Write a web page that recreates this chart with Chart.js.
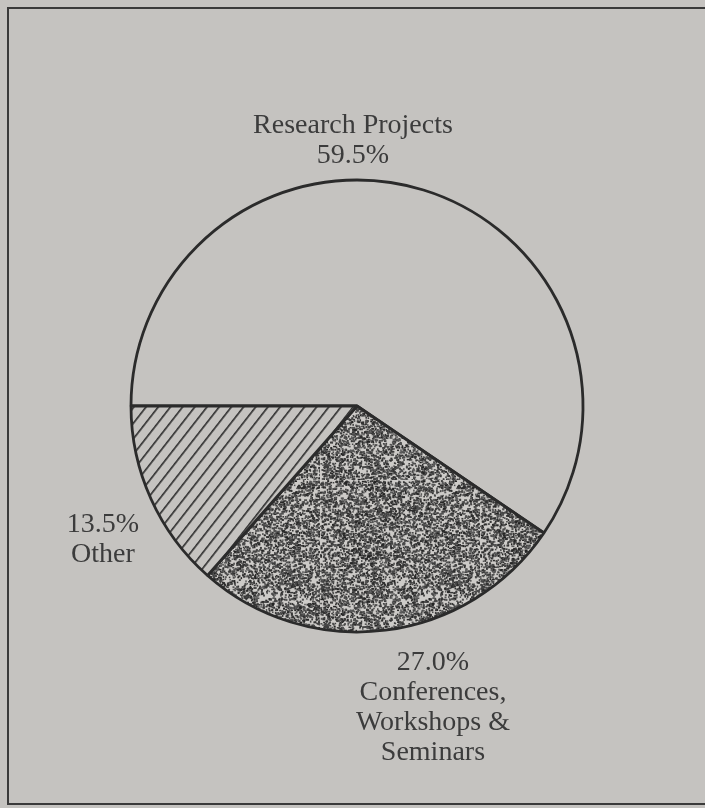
<!DOCTYPE html>
<html>
<head>
<meta charset="utf-8">
<script src="https://cdn.jsdelivr.net/npm/chart.js@4"></script>
<style>
  html, body { margin: 0; padding: 0; background: #c5c3c0; }
  #wrap { width: 705px; height: 808px; }
</style>
</head>
<body>
<div id="wrap"><canvas id="c" width="705" height="808"></canvas></div>
<script>
// ---- data ----
const categories = ['Research Projects', 'Conferences, Workshops & Seminars', 'Other'];
const values = [59.5, 27.0, 13.5];
const labelLines = [
  ['Research Projects'],
  ['Conferences,', 'Workshops &', 'Seminars'],
  ['Other']
];
const percentFirst = [false, true, true]; // percentage line above the name?

// ---- styles ----
const PAPER = '#c5c3c0';
const INK = '#2b2b2b';
const TEXT = '#3c3c3c';
const FONT = '28px "Liberation Serif", "Times New Roman", serif';

// deterministic stipple texture (style only, not data)
function makeStipple(ctx) {
  const s = 160;
  const cv = document.createElement('canvas');
  cv.width = s; cv.height = s;
  const g = cv.getContext('2d');
  g.fillStyle = '#cdcbc8';
  g.fillRect(0, 0, s, s);
  let seed = 12345;
  const rnd = () => { seed = (seed * 1103515245 + 12345) & 0x7fffffff; return seed / 0x7fffffff; };
  for (let i = 0; i < 6800; i++) {
    const x = rnd() * s, y = rnd() * s;
    const r = rnd();
    const shade = 35 + Math.floor(rnd() * 60);
    g.fillStyle = `rgb(${shade},${shade},${shade})`;
    const w = r < 0.5 ? 1.5 : (r < 0.85 ? 2 : 3);
    const h = rnd() < 0.5 ? 1.5 : 2;
    g.fillRect(x, y, w, h);
  }
  return ctx.createPattern(cv, 'repeat');
}

function makeHatch(ctx) {
  const sp = 9.6;
  const cv = document.createElement('canvas');
  cv.width = 10; cv.height = 10;
  const g = cv.getContext('2d');
  g.fillStyle = PAPER;
  g.fillRect(0, 0, 10, 10);
  g.fillStyle = '#303030';
  g.fillRect(0, 0, 1.7, 10);
  const p = ctx.createPattern(cv, 'repeat');
  p.setTransform(new DOMMatrix().rotate(38).scale(sp / 10, 1));
  return p;
}

const canvas = document.getElementById('c');
const ctx0 = canvas.getContext('2d');
const fills = [PAPER, makeStipple(ctx0), makeHatch(ctx0)];

const backgroundPlugin = {
  id: 'paper',
  beforeDraw(chart) {
    const c = chart.ctx;
    c.save();
    c.fillStyle = PAPER;
    c.fillRect(0, 0, chart.width, chart.height);
    c.strokeStyle = '#3a3a3a';
    c.lineWidth = 2;
    c.strokeRect(8, 8, chart.width + 20, chart.height - 12);
    c.restore();
  }
};

// label placement relative to pie centre, in units of radius
const labelOffsets = [
  { dx: -0.018, dy: -1.208 },   // Research (baseline of first line)
  { dx: 0.336, dy: 1.168 },     // Conferences
  { dx: -1.124, dy: 0.558 }     // Other
];
const LINE_H = 30;

const labelPlugin = {
  id: 'outerLabels',
  afterDatasetsDraw(chart) {
    const meta = chart.getDatasetMeta(0);
    const arc = meta.data[0];
    const cx = arc.x, cy = arc.y, R = arc.outerRadius;
    const c = chart.ctx;
    c.save();
    c.font = FONT;
    c.fillStyle = TEXT;
    c.textAlign = 'center';
    c.textBaseline = 'alphabetic';
    values.forEach((v, i) => {
      const pct = v.toFixed(1) + '%';
      const lines = percentFirst[i] ? [pct, ...labelLines[i]] : [...labelLines[i], pct];
      const x = cx + labelOffsets[i].dx * R;
      const y = cy + labelOffsets[i].dy * R;
      lines.forEach((t, k) => c.fillText(t, x, y + k * LINE_H));
    });
    c.restore();
  }
};

new Chart(canvas, {
  type: 'pie',
  data: {
    labels: categories,
    datasets: [{
      data: values,
      backgroundColor: fills,
      borderColor: INK,
      borderWidth: 2.8,
      hoverOffset: 0
    }]
  },
  options: {
    responsive: false,
    animation: false,
    rotation: 270,
    radius: 226,
    layout: { padding: { left: 9, right: 0, top: 4, bottom: 0 } },
    plugins: {
      legend: { display: false },
      tooltip: { enabled: false }
    },
    events: []
  },
  plugins: [backgroundPlugin, labelPlugin]
});
</script>
</body>
</html>
